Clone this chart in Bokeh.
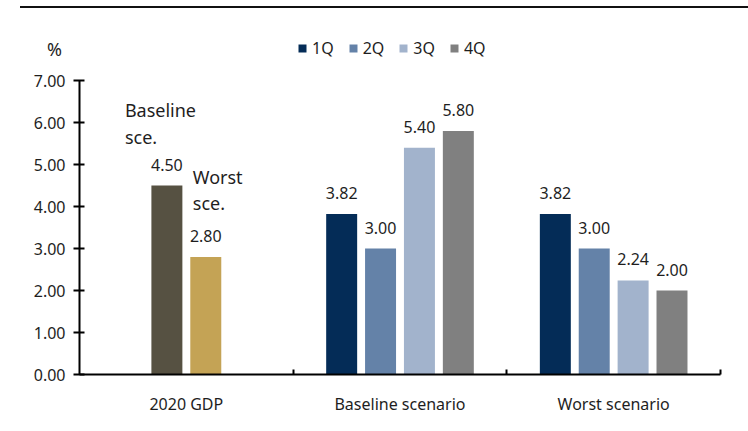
from bokeh.plotting import figure
from bokeh.models import (ColumnDataSource, FactorRange, LinearAxis, FixedTicker, Legend,
                          LegendItem, Div, Range1d, NumeralTickFormatter)
from bokeh.transform import dodge
from bokeh.layouts import column
from bokeh.core.properties import value
from bokeh.embed import file_html
from bokeh.resources import INLINE

# ---- data ----
categories = ["2020 GDP", "Baseline scenario", "Worst scenario"]
gdp_names = ["Baseline\nsce.", "Worst\nsce."]
gdp_values = [4.50, 2.80]
quarters = ["1Q", "2Q", "3Q", "4Q"]
baseline_values = [3.82, 3.00, 5.40, 5.80]
worst_values = [3.82, 3.00, 2.24, 2.00]
y_ticks = [0, 1, 2, 3, 4, 5, 6, 7]
unit_label = "%"

# ---- style ----
FONT = "Noto Sans"
TXT = "#1e1e1e"
gdp_colors = ["#565142", "#C4A355"]
q_colors = ["#042C57", "#6482A8", "#A2B3CC", "#808080"]
gdp_offsets = [-0.091, 0.091]
q_offsets = [-0.273, -0.091, 0.091, 0.273]
note_dx = [-42, -13]
note_dy = [-62, -67]
BAR_W = 0.145
PX_PER_UNIT = 42.0
TOP = 0
FRAME_H = 423 - 57 - TOP

p = figure(width=748, height=423,
           x_range=FactorRange(factors=categories, range_padding=0),
           y_range=Range1d(0, FRAME_H / PX_PER_UNIT),
           x_axis_type=None, y_axis_type=None,
           output_backend="svg", toolbar_location=None,
           min_border_left=79, min_border_right=28, min_border_top=TOP, min_border_bottom=57)
p.outline_line_color = None
p.background_fill_color = "white"
p.border_fill_color = "white"

yaxis = LinearAxis(bounds=(0, 7), ticker=FixedTicker(ticks=y_ticks),
                   formatter=NumeralTickFormatter(format="0.00"))
yaxis.major_tick_in = 5
yaxis.major_tick_out = 6
yaxis.major_tick_line_width = 2
yaxis.axis_line_width = 2
yaxis.minor_tick_line_color = None
yaxis.major_label_text_font = FONT
yaxis.major_label_text_font_size = "16px"
yaxis.major_label_text_color = TXT
yaxis.major_label_standoff = 8
p.add_layout(yaxis, "left")

xaxis = LinearAxis(ticker=FixedTicker(ticks=[i + 0.5 for i in range(len(categories))],
                                      minor_ticks=[i + 1 for i in range(len(categories))]),
                   major_label_overrides={i + 0.5: c for i, c in enumerate(categories)})
xaxis.major_tick_line_color = None
xaxis.minor_tick_in = 5
xaxis.minor_tick_out = 0
xaxis.minor_tick_line_width = 2
xaxis.axis_line_width = 2
xaxis.major_label_text_font = FONT
xaxis.major_label_text_font_size = "16px"
xaxis.major_label_text_color = TXT
xaxis.major_label_standoff = 12
p.add_layout(xaxis, "below")

# 2020 GDP bars
for i in range(len(gdp_values)):
    src = ColumnDataSource(dict(cat=[categories[0]], value=[gdp_values[i]],
                                label=[f"{gdp_values[i]:.2f}"], name=[gdp_names[i]]))
    xd = dodge("cat", gdp_offsets[i], range=p.x_range)
    p.vbar(x=xd, top="value", width=BAR_W, source=src, fill_color=gdp_colors[i], line_color=None)
    p.text(x=xd, y="value", text="label", source=src, y_offset=-21, text_align="center",
           text_baseline="middle", text_font=value(FONT), text_font_size="16px", text_color=TXT)
    p.text(x=dodge("cat", gdp_offsets[i], range=p.x_range), y="value", text="name", source=src,
           x_offset=note_dx[i], y_offset=note_dy[i], text_align="left", text_baseline="middle",
           text_font=value(FONT), text_font_size="18px", text_color=TXT, text_line_height=1.1)

# quarterly bars
items = []
for i, q in enumerate(quarters):
    vals = [baseline_values[i], worst_values[i]]
    src = ColumnDataSource(dict(cat=categories[1:], value=vals, label=[f"{v:.2f}" for v in vals]))
    xd = dodge("cat", q_offsets[i], range=p.x_range)
    r = p.vbar(x=xd, top="value", width=BAR_W, source=src, fill_color=q_colors[i], line_color=None)
    p.text(x=xd, y="value", text="label", source=src, y_offset=-21, text_align="center",
           text_baseline="middle", text_font=value(FONT), text_font_size="16px", text_color=TXT)
    items.append(LegendItem(label=q, renderers=[r]))

legend = Legend(items=items, orientation="horizontal", location=(218, 315))
legend.glyph_width = 10
legend.glyph_height = 10
legend.label_standoff = 5
legend.spacing = 14
legend.label_height = 22
legend.padding = 0
legend.margin = 0
legend.border_line_color = None
legend.background_fill_alpha = 0
legend.label_text_font = FONT
legend.label_text_font_size = "16px"
legend.label_text_color = TXT
p.add_layout(legend)

header_html = (
    '<div style="position:absolute;left:20px;top:6px;width:728px;height:2px;background:#111;"></div>'
    f'<div style="position:absolute;left:47px;top:37px;font-family:\'{FONT}\';font-size:18px;'
    f'line-height:24px;color:{TXT};">{unit_label}</div>'
)
header = Div(text=header_html, width=748, height=8, margin=(0, 0, 0, 0),
             styles={"position": "relative", "overflow": "visible", "z-index": "5"})

layout = column(header, p, spacing=0)
open("out.html", "w").write(file_html(layout, INLINE))
